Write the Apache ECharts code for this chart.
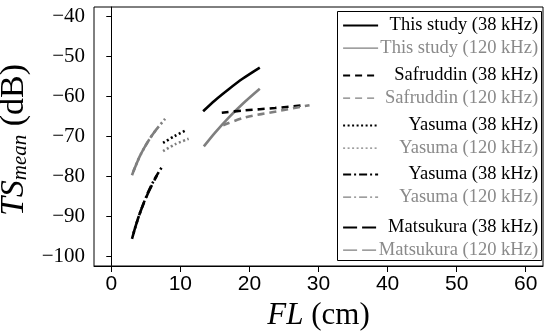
<!DOCTYPE html>
<html><head><meta charset="utf-8">
<script src="https://cdn.jsdelivr.net/npm/echarts@6/dist/echarts.min.js"></script>
<style>html,body{margin:0;padding:0;background:#fff}#c{width:550px;height:335px}</style>
</head><body><div id="c"></div>
<script>
// ---- data ----
const X_TICKS = [0, 10, 20, 30, 40, 50, 60];
const Y_TICKS = [-100, -90, -80, -70, -60, -50, -40];

const FL_THIS_38 = [13.3, 15, 17, 19, 21.5];
const TS_THIS_38 = [-63.8, -61.1, -58.3, -55.7, -52.9];
const FL_THIS_120 = [13.4, 15, 17, 19, 21.5];
const TS_THIS_120 = [-72.6, -69.2, -65.4, -62.0, -58.2];
const FL_SAF_38 = [16.0, 19.3, 23.7, 27.5];
const TS_SAF_38 = [-64.2, -63.6, -63.0, -62.4];
const FL_SAF_120 = [16.2, 19.3, 24.1, 28.7];
const TS_SAF_120 = [-67.3, -65.4, -63.8, -62.3];
const FL_YAS_DOT_38 = [7.5, 9.2, 10.9];
const TS_YAS_DOT_38 = [-71.7, -70.0, -68.5];
const FL_YAS_DOT_120 = [7.5, 9.2, 11.2];
const TS_YAS_DOT_120 = [-73.8, -72.1, -70.7];
const FL_YAS_DD_38 = [3.0, 3.9, 5.1, 6.2, 7.5];
const TS_YAS_DD_38 = [-95.7, -90.5, -85.0, -81.0, -77.3];
const FL_YAS_DD_120 = [3.0, 3.9, 4.9, 6.2, 7.8];
const TS_YAS_DD_120 = [-79.8, -75.9, -72.6, -69.1, -65.7];
const FL_MAT_38 = [3.2, 4.2, 5.4, 6.6];
const TS_MAT_38 = [-94.4, -89.0, -84.0, -79.9];
const FL_MAT_120 = [3.2, 4.2, 5.4, 6.4];
const TS_MAT_120 = [-78.9, -74.8, -71.1, -68.6];

const NAMES = ['This study (38 kHz)', 'This study (120 kHz)', 'Safruddin (38 kHz)', 'Safruddin (120 kHz)',
  'Yasuma (38 kHz)', 'Yasuma (120 kHz)', 'Yasuma (38 kHz) ', 'Yasuma (120 kHz) ',
  'Matsukura (38 kHz)', 'Matsukura (120 kHz)'];

// ---- styles ----
const BLACK = '#000000', GRAY = '#7f7f7f', GRAY_TEXT = '#8a8a8a';
const SERIF = '"Liberation Serif","Times New Roman",serif';
const SANS = '"Liberation Sans",Arial,sans-serif';
const DASHED = [7, 5], DOTTED = [2, 2.5], DASHDOT = [8, 3, 2, 3], LONGDASH = [14, 5];

const defs = [
  [NAMES[0], FL_THIS_38, TS_THIS_38, BLACK, 'solid'],
  [NAMES[1], FL_THIS_120, TS_THIS_120, GRAY, 'solid'],
  [NAMES[2], FL_SAF_38, TS_SAF_38, BLACK, DASHED],
  [NAMES[3], FL_SAF_120, TS_SAF_120, GRAY, DASHED],
  [NAMES[4], FL_YAS_DOT_38, TS_YAS_DOT_38, BLACK, DOTTED],
  [NAMES[5], FL_YAS_DOT_120, TS_YAS_DOT_120, GRAY, DOTTED],
  [NAMES[6], FL_YAS_DD_38, TS_YAS_DD_38, BLACK, DASHDOT],
  [NAMES[7], FL_YAS_DD_120, TS_YAS_DD_120, GRAY, DASHDOT],
  [NAMES[8], FL_MAT_38, TS_MAT_38, BLACK, LONGDASH],
  [NAMES[9], FL_MAT_120, TS_MAT_120, GRAY, LONGDASH]
];

const series = defs.map(d => ({
  name: d[0], type: 'line', symbol: 'none', smooth: 0.3,
  data: d[1].map((x, i) => [x, d[2][i]]),
  lineStyle: { color: d[3], width: 2.6, type: d[4] },
  itemStyle: { color: d[3] }
}));

const legendData = defs.map(d => ({
  name: d[0],
  textStyle: { color: d[3] === BLACK ? BLACK : GRAY_TEXT },
  lineStyle: { width: d[3] === BLACK ? 2.2 : 1.4 },
  itemStyle: { color: 'rgba(0,0,0,0)', borderColor: 'rgba(0,0,0,0)', borderWidth: 0, opacity: 0 }
}));

// five legend blocks (pairs), stacked inside one framed box
const PAIR_TOPS = [16, 66, 116, 165, 218];
const legends = PAIR_TOPS.map((t, k) => ({
  orient: 'vertical', left: 337, top: t, z: 6,
  padding: [0, 3, 0, 5], itemGap: 3.6, itemWidth: 35, itemHeight: 14,
  data: legendData.slice(2 * k, 2 * k + 2),
  formatter: name => '{t|' + name.trim() + '}',
  itemStyle: { color: 'rgba(0,0,0,0)', borderColor: 'rgba(0,0,0,0)', borderWidth: 0 },
  textStyle: { fontFamily: SERIF, fontSize: 18.5,
    rich: { t: { width: 155, align: 'right', fontFamily: SERIF, fontSize: 18.5, lineHeight: 18 } } }
}));

const chart = echarts.init(document.getElementById('c'), null, { renderer: 'canvas' });
chart.setOption({
  animation: false,
  backgroundColor: '#fff',
  grid: { left: 94, right: 7, top: 7, bottom: 69, show: true, borderColor: '#000', borderWidth: 1,
          containLabel: false, outerBoundsMode: 'none' },
  graphic: [{ type: 'rect', left: 337, top: 11, z: 5,
    shape: { width: 204, height: 249 },
    style: { fill: '#fff', stroke: '#000', lineWidth: 1 } }],
  xAxis: {
    type: 'value', min: -2.5, max: 62.5,
    axisLine: { show: true, lineStyle: { color: '#000', width: 1 } },
    axisTick: { show: true, length: 6, lineStyle: { color: '#000' }, customValues: X_TICKS },
    axisLabel: { color: '#000', fontFamily: SANS, fontSize: 21, margin: 8, customValues: X_TICKS },
    splitLine: { show: false },
    name: '{i|FL}{n| (cm)}', nameLocation: 'middle', nameGap: 32,
    nameTextStyle: { rich: {
      i: { fontFamily: SERIF, fontStyle: 'italic', fontSize: 31, color: '#000' },
      n: { fontFamily: SERIF, fontSize: 31, color: '#000' } } }
  },
  yAxis: {
    type: 'value', min: -102.5, max: -37.75,
    axisLine: { show: true, lineStyle: { color: '#000', width: 1 } },
    axisTick: { show: true, length: 5, lineStyle: { color: '#000' }, customValues: Y_TICKS },
    axisLabel: { color: '#000', fontFamily: SERIF, fontSize: 21, margin: 9, customValues: Y_TICKS,
      formatter: v => (v < 0 ? '\u2212' : '') + Math.abs(v) },
    splitLine: { show: false },
    name: '{i|TS}{s|mean}{n| (dB)}', nameLocation: 'middle', nameGap: 52,
    nameTextStyle: { padding: [0, 7, 0, 0], rich: {
      i: { fontFamily: SERIF, fontStyle: 'italic', fontSize: 34, lineHeight: 38, color: '#000', verticalAlign: 'bottom' },
      s: { fontFamily: SERIF, fontStyle: 'italic', fontSize: 21, lineHeight: 21, color: '#000', verticalAlign: 'bottom' },
      n: { fontFamily: SERIF, fontSize: 34, lineHeight: 38, color: '#000', verticalAlign: 'bottom' } } }
  },
  legend: legends,
  series: series
});
</script></body></html>
